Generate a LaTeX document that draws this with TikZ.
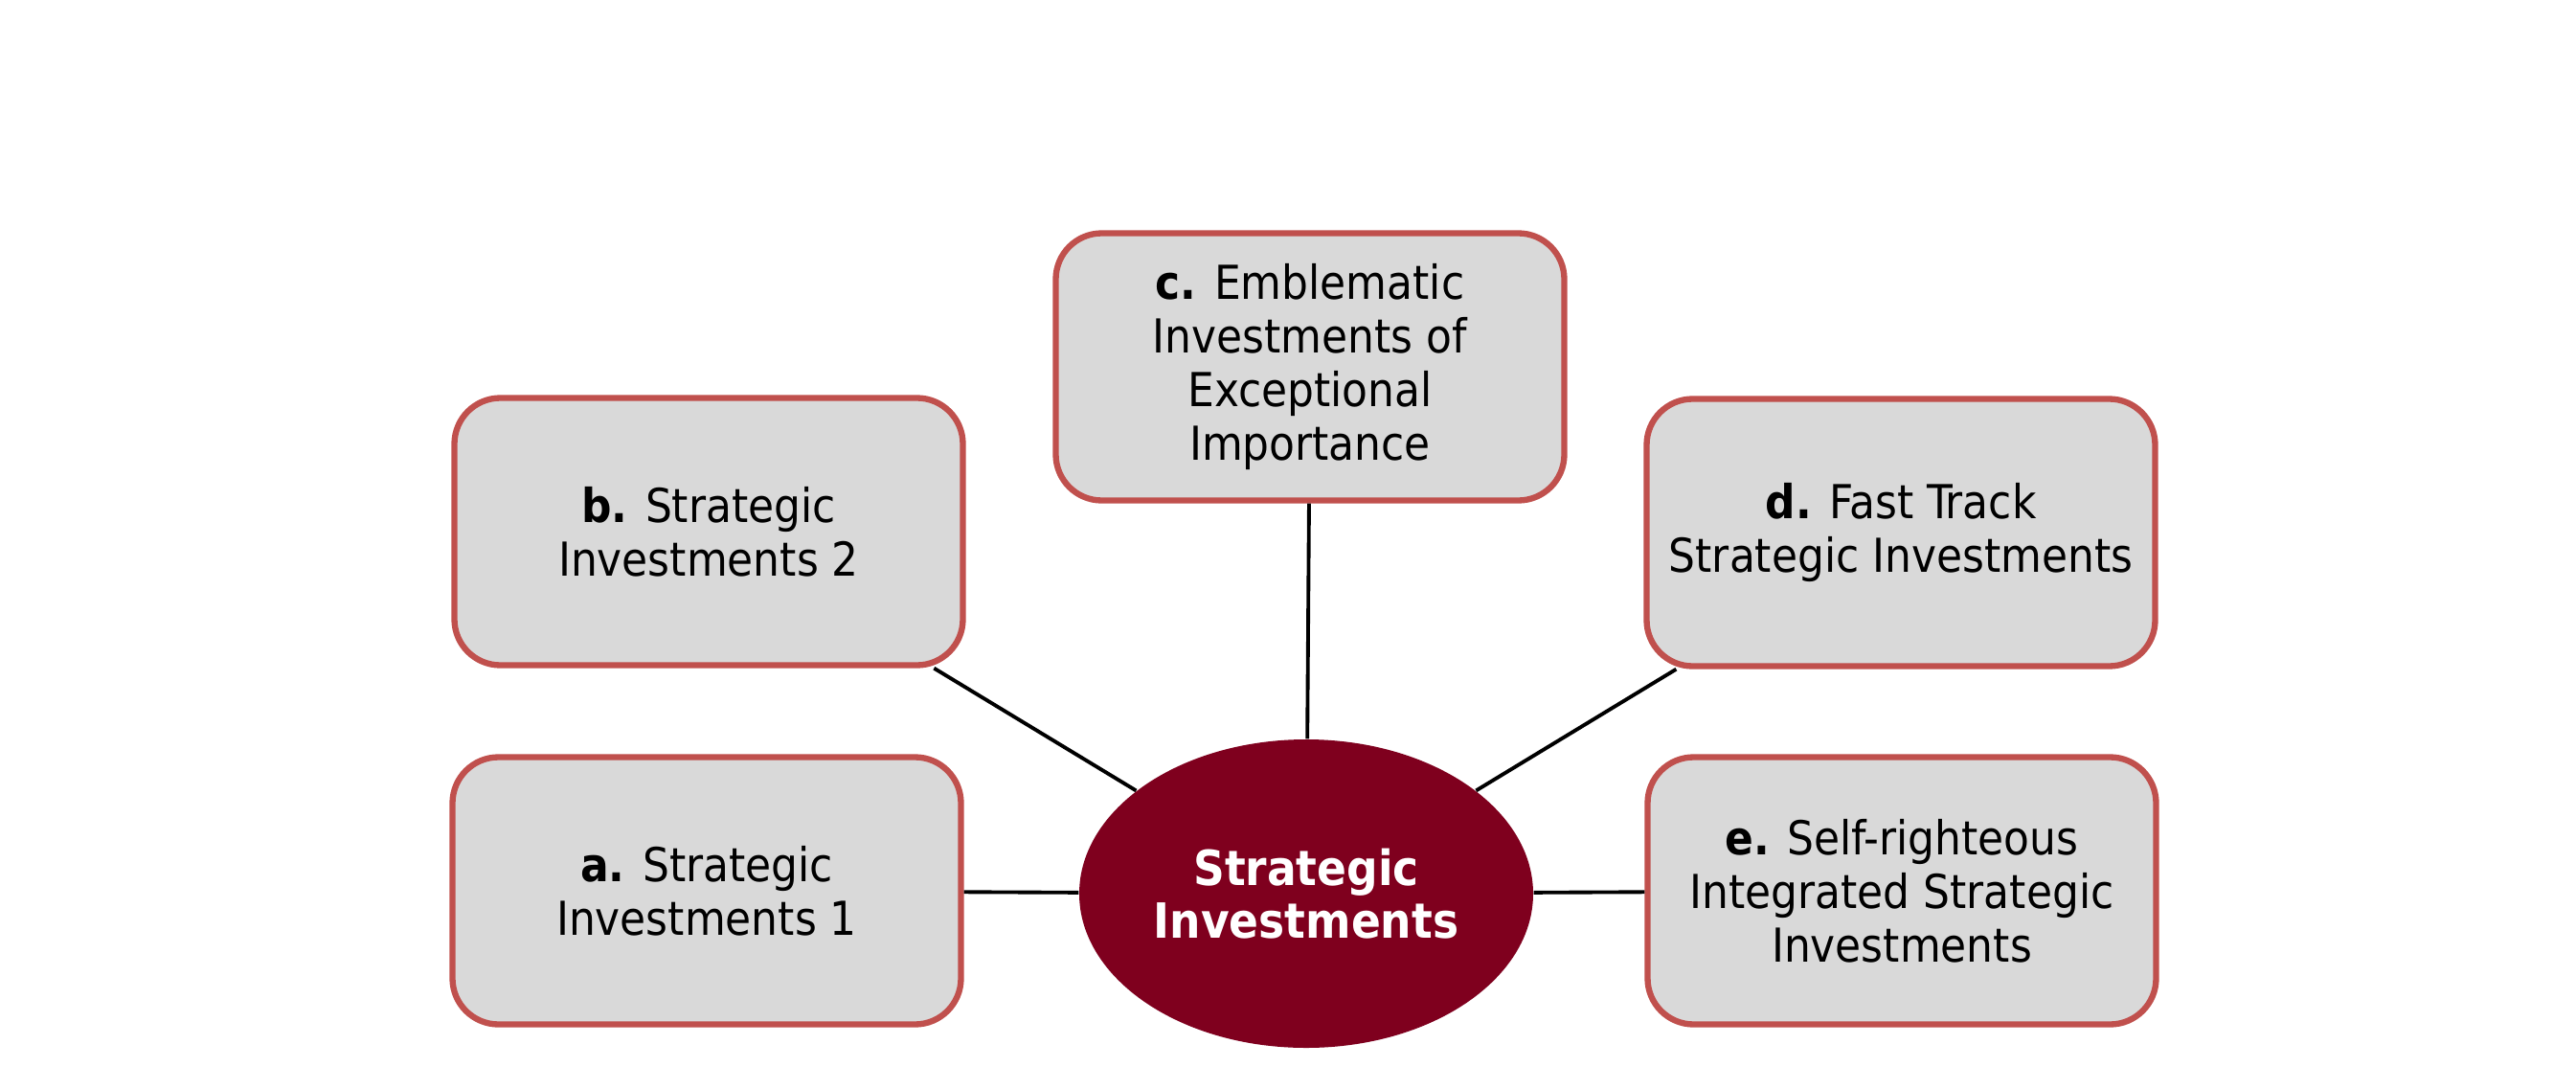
\documentclass[tikz,border=0pt]{standalone}
\usepackage{fontspec}
\setmainfont{DejaVu Sans Condensed}
\usepackage{xcolor}
\usetikzlibrary{
  shapes
}
\definecolor{boxred}{RGB}{192,80,77}
\definecolor{boxgray}{RGB}{217,217,217}
\definecolor{hubred}{RGB}{127,0,30}

\begin{document}
\begin{tikzpicture}[
    box/.style = {shape=rectangle, rounded corners=0.48cm,
      draw=boxred, line width=1.8pt, fill=boxgray, align=center,
      minimum width=5.31cm, minimum height=2.79cm,
      font=\fontsize{13.9}{15.9}\selectfont},
    hub/.style = {shape=ellipse, fill=hubred, text=white,
      minimum width=4.74cm, minimum height=3.22cm, inner sep=0pt,
      align=center, font=\bfseries\fontsize{14.4}{15.6}\selectfont},
    link/.style = {draw=black, line width=1.1pt}]
  \useasboundingbox (0,0) rectangle (26.9,11.13);
  \node[hub] (hub) at (13.64,1.80) {Strategic\\Investments};
  \node[box] (a) at (7.38,1.83) {\textbf{a.} Strategic\\Investments 1};
  \node[box] (b) at (7.40,5.58) {\textbf{b.} Strategic\\Investments 2};
  \node[box] (c) at (13.68,7.30) {\textbf{c.} Emblematic\\Investments of\\Exceptional\\Importance};
  \node[box] (d) at (19.85,5.57) {\textbf{d.} Fast Track\\Strategic Investments};
  \node[box] (e) at (19.86,1.83) {\textbf{e.} Self-righteous\\Integrated Strategic\\Investments};
  \foreach \n in {a,b,c,d,e}
    \draw[link] (hub) -- (\n);
\end{tikzpicture}
\end{document}
